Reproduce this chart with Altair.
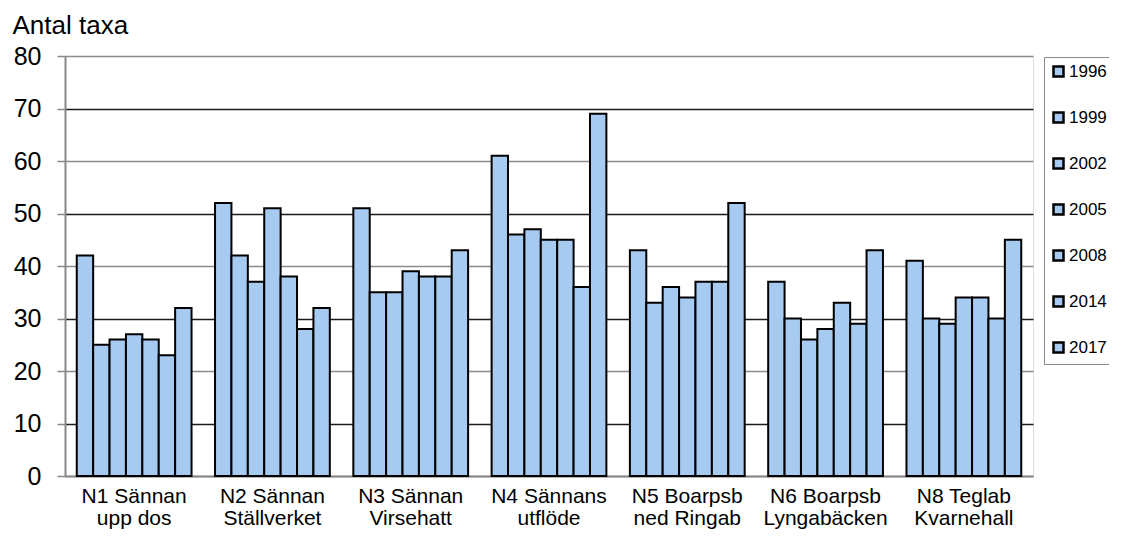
import altair as alt
import pandas as pd

sites = [
    "N1 Sännan\nupp dos",
    "N2 Sännan\nStällverket",
    "N3 Sännan\nVirsehatt",
    "N4 Sännans\nutflöde",
    "N5 Boarpsb\nned Ringab",
    "N6 Boarpsb\nLyngabäcken",
    "N8 Teglab\nKvarnehall",
]
years = ["1996", "1999", "2002", "2005", "2008", "2014", "2017"]

n1 = [42, 25, 26, 27, 26, 23, 32]
n2 = [52, 42, 37, 51, 38, 28, 32]
n3 = [51, 35, 35, 39, 38, 38, 43]
n4 = [61, 46, 47, 45, 45, 36, 69]
n5 = [43, 33, 36, 34, 37, 37, 52]
n6 = [37, 30, 26, 28, 33, 29, 43]
n8 = [41, 30, 29, 34, 34, 30, 45]
site_values = [n1, n2, n3, n4, n5, n6, n8]

rows = []
for s, vals in zip(sites, site_values):
    for y, v in zip(years, vals):
        rows.append({"site": s, "year": y, "value": v})
df = pd.DataFrame(rows)

FONT = "Liberation Sans"
BLUE = "#A6CAF0"

chart = (
    alt.Chart(df)
    .mark_bar(stroke="black", strokeWidth=2, fill=BLUE)
    .encode(
        x=alt.X(
            "site:N",
            sort=sites,
            scale=alt.Scale(paddingInner=0.17, paddingOuter=0.085),
            axis=alt.Axis(
                title=None,
                labelAngle=0,
                ticks=False,
                labelPadding=9,
                labelFontSize=21,
                labelLineHeight=22,
                labelFont=FONT,
                labelColor="black",
                labelExpr="split(datum.label, '\\n')",
                domainColor="#888888",
                domainWidth=2,
                grid=False,
                labelLimit=300,
            ),
        ),
        xOffset=alt.XOffset("year:N", sort=years),
        y=alt.Y(
            "value:Q",
            scale=alt.Scale(domain=[0, 80], nice=False),
            axis=alt.Axis(
                values=[0, 10, 20, 30, 40, 50, 60, 70, 80],
                title="Antal taxa",
                titleAngle=0,
                titleX=-53,
                titleY=-23,
                titleAlign="left",
                titleBaseline="alphabetic",
                titleFontSize=26,
                titleFontWeight="normal",
                titleFont=FONT,
                titleColor="black",
                labelFontSize=25,
                labelFont=FONT,
                labelColor="black",
                labelPadding=16,
                tickSize=8,
                tickColor="#888888",
                tickWidth=1.5,
                domainColor="#888888",
                domainWidth=2,
                grid=True,
                gridColor={"condition": {"test": "datum.value % 20 === 0", "value": "#8c8c8c"}, "value": "#1a1a1a"},
                gridWidth=1.5,
            ),
        ),
        color=alt.Color(
            "year:N",
            sort=years,
            scale=alt.Scale(domain=years, range=[BLUE] * 7),
            legend=alt.Legend(
                title=None,
                orient="none",
                legendX=979,
                legendY=1,
                strokeColor="#888888",
                padding=6,
                symbolType="square",
                symbolSize=100,
                symbolStrokeColor="black",
                symbolStrokeWidth=2.5,
                symbolFillColor=BLUE,
                labelFontSize=17,
                labelFont=FONT,
                labelColor="black",
                labelOffset=2,
                rowPadding=25,
                labelLimit=200,
            ),
        ),
    )
    .properties(
        width=968,
        height=420,
        autosize=alt.AutoSizeParams(type="none"),
        padding={"left": 57, "top": 48, "right": 76, "bottom": 54},
    )
    .configure_view(stroke="#888888", strokeWidth=2)
    .configure(background="white")
)

chart.save("out.html", embed_options={"renderer": "svg", "actions": False})
